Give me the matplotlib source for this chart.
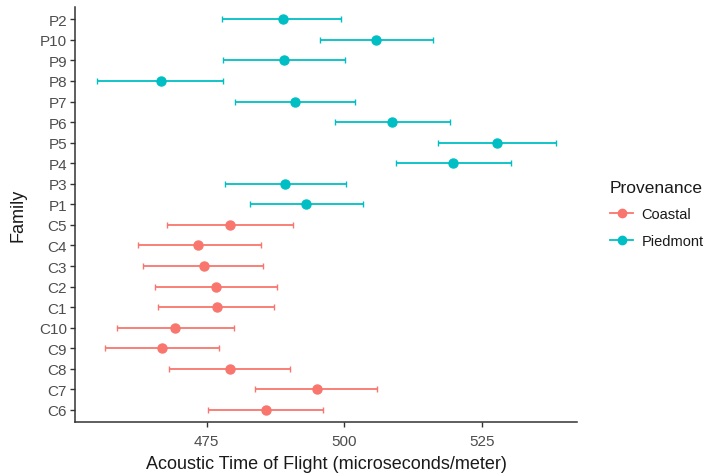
import matplotlib
matplotlib.use("Agg")
import matplotlib.pyplot as plt
from matplotlib.lines import Line2D

plt.rcParams['font.family'] = ['Liberation Sans', 'DejaVu Sans']

# Bottom to top order
families = ["C6", "C7", "C8", "C9", "C10", "C1", "C2", "C3", "C4", "C5",
            "P1", "P3", "P4", "P5", "P6", "P7", "P8", "P9", "P10", "P2"]
provenance = ["Coastal"] * 10 + ["Piedmont"] * 10
means = [485.8, 495.0, 479.2, 466.9, 469.2, 476.8, 476.6, 474.5, 473.5, 479.2,
         493.1, 489.2, 519.8, 527.8, 508.7, 491.0, 466.6, 489.0, 505.8, 488.8]
lower = [475.3, 483.7, 468.2, 456.5, 458.7, 466.2, 465.6, 463.5, 462.5, 467.7,
         482.8, 478.4, 509.4, 517.1, 498.3, 480.2, 455.1, 478.0, 495.6, 477.8]
upper = [496.1, 506.0, 490.2, 477.2, 480.0, 487.2, 487.7, 485.2, 484.9, 490.7,
         503.4, 500.4, 530.4, 538.6, 519.2, 502.0, 477.9, 500.2, 516.1, 499.4]
x_ticks = [475, 500, 525]

colors = {"Coastal": "#F8766D", "Piedmont": "#00BFC4"}

fig = plt.figure(figsize=(7.2, 4.77), dpi=100)
ax = fig.add_axes([0.1046, 0.1126, 0.801 - 0.1046, 0.985 - 0.1126 - 0.0016])

for i, (fam, prov, m, lo, hi) in enumerate(zip(families, provenance, means, lower, upper)):
    c = colors[prov]
    ax.errorbar([m], [i], xerr=[[m - lo], [hi - m]], fmt='o', color=c,
                ecolor=c, elinewidth=1.3, capsize=2.2, capthick=1.0,
                markersize=6.5, zorder=3)

ax.set_yticks(range(len(families)))
ax.set_yticklabels(families)
ax.set_xticks(x_ticks)
ax.set_xticklabels([str(t) for t in x_ticks])
ax.set_xlim(451.1, 542.3)
ax.set_ylim(-0.6, len(families) - 1 + 0.6)

for s in ["top", "right"]:
    ax.spines[s].set_visible(False)
for s in ["left", "bottom"]:
    ax.spines[s].set_color("#333333")
    ax.spines[s].set_linewidth(1.1)
ax.tick_params(axis='both', colors="#333333", length=3.5, width=1.0,
               labelcolor="#4D4D4D", labelsize=11, pad=2.5)
ax.tick_params(axis='x', pad=5)

ax.set_xlabel("Acoustic Time of Flight (microseconds/meter)", fontsize=13,
              color="#1a1a1a", labelpad=5)
ax.set_ylabel("Family", fontsize=13, color="#1a1a1a", labelpad=9)

handles = [Line2D([0], [0], color=colors[p], marker='o', markersize=6,
                  linewidth=1.3, label=p) for p in ["Coastal", "Piedmont"]]
leg = fig.legend(handles=handles, title="Provenance", loc="upper left",
                 bbox_to_anchor=(0.829, 0.648), frameon=False, fontsize=10.5,
                 title_fontsize=12.5, handlelength=1.6, labelspacing=0.85,
                 handletextpad=0.55)
leg._legend_box.align = "left"
for t in leg.get_texts():
    t.set_color("#1a1a1a")
leg.get_title().set_color("#1a1a1a")

fig.savefig("out.png", dpi=100)
